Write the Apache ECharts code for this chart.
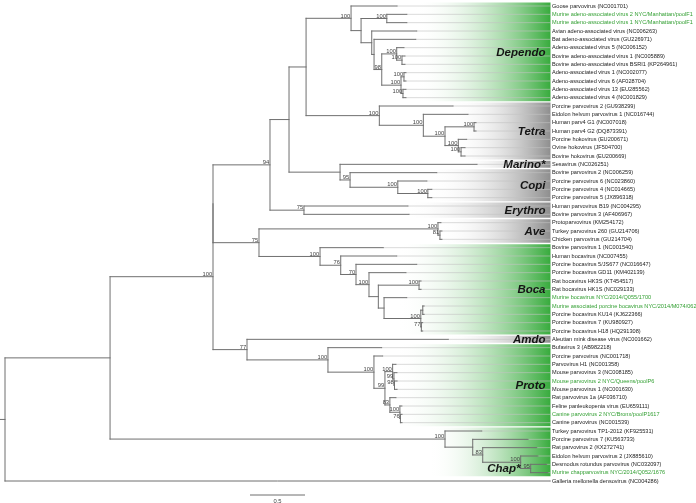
<!DOCTYPE html>
<html><head><meta charset="utf-8">
<script src="https://cdn.jsdelivr.net/npm/echarts@6/dist/echarts.min.js"></script>
<style>html,body{margin:0;padding:0;background:#fff}#c{width:696px;height:503px}</style>
</head><body><div id="c"></div>
<script>
// ---------------- DATA ----------------
const tipNames = [
 'Goose parvovirus (NC001701)',
 'Murine adeno-associated virus 2 NYC/Manhattan/poolF1',
 'Murine adeno-associated virus 1 NYC/Manhattan/poolF1',
 'Avian adeno-associated virus (NC006263)',
 'Bat adeno-associated virus (GU226971)',
 'Adeno-associated virus 5 (NC006152)',
 'Bovine adeno-associated virus 1 (NC005889)',
 'Bovine adeno-associated virus BSRI1 (KP264961)',
 'Adeno-associated virus 1 (NC002077)',
 'Adeno-associated virus 6 (AF028704)',
 'Adeno-associated virus 13 (EU285562)',
 'Adeno-associated virus 4 (NC001829)',
 'Porcine parvovirus 2 (GU938299)',
 'Eidolon helvum parvovirus 1 (NC016744)',
 'Human parv4 G1 (NC007018)',
 'Human parv4 G2 (DQ873391)',
 'Porcine hokovirus (EU200671)',
 'Ovine hokovirus (JF504700)',
 'Bovine hokovirus (EU200669)',
 'Sesavirus (NC026251)',
 'Bovine parvovirus 2 (NC006259)',
 'Porcine parvovirus 6 (NC023860)',
 'Porcine parvovirus 4 (NC014665)',
 'Porcine parvovirus 5 (JX896318)',
 'Human parvovirus B19 (NC004295)',
 'Bovine parvovirus 3 (AF406967)',
 'Protoparvovirus (KM254172)',
 'Turkey parvovirus 260 (GU214706)',
 'Chicken parvovirus (GU214704)',
 'Bovine parvovirus 1 (NC001540)',
 'Human bocavirus (NC007455)',
 'Porcine bocavirus 5/JS677 (NC016647)',
 'Porcine bocavirus GD11 (KM402139)',
 'Rat bocavirus HK3S (KT454517)',
 'Rat bocavirus HK1S (NC029133)',
 'Murine bocavirus NYC/2014/Q055/1700',
 'Murine associated porcine bocavirus NYC/2014/M074/0626',
 'Porcine bocavirus KU14 (KJ622366)',
 'Porcine bocavirus 7 (KU980927)',
 'Porcine bocavirus H18 (HQ291308)',
 'Aleutian mink disease virus (NC001662)',
 'Bufavirus 3 (AB982218)',
 'Porcine parvovirus (NC001718)',
 'Parvovirus H1 (NC001358)',
 'Mouse parvovirus 3 (NC008185)',
 'Mouse parvovirus 2 NYC/Queens/poolP6',
 'Mouse parvovirus 1 (NC001630)',
 'Rat parvovirus 1a (AF036710)',
 'Feline panleukopenia virus (EU659111)',
 'Canine parvovirus 2 NYC/Bronx/poolP1617',
 'Canine parvovirus (NC001539)',
 'Turkey parvovirus TP1-2012 (KF925531)',
 'Porcine parvovirus 7 (KU563733)',
 'Rat parvovirus 2 (KX272741)',
 'Eidolon helvum parvovirus 2 (JX885610)',
 'Desmodus rotundus parvovirus (NC032097)',
 'Murine chapparvovirus NYC/2014/Q052/1676',
 'Galleria mellonella densovirus (NC004286)'
];
const newTips = [1, 2, 35, 36, 45, 49, 56];

// clade subtrees (Newick; tips = index in tipNames, branch lengths in substitutions/site, node labels = bootstrap)
const dependoTree = "(0:0.418,((1:0.182,2:0.182)100:0.234,(3:0.409,(4:0.379,((5:0.066,(6:0.027,7:0.027)100:0.048)100:0.136,((8:0.018,9:0.018)100:0.027,(10:0.027,11:0.027)100:0.018)100:0.175)98:0.07):0.021):0.097):0.091)100:0.409";
const tetraTree = "(12:0.67,(13:0.406,((14:0.018,15:0.018)100:0.264,(16:0.076,(17:0.036,18:0.036)100:0.025)100:0.121)100:0.197)100:0.4)100:0.666";
const marinoCopiTree = "(19:1.245,(20:0.788,(21:0.264,(22:0.036,23:0.036)100:0.273)100:0.434)95:0.091):0.464";
const erythroTree = "(24:0.945,25:0.955)75:0.309";
const aveTree = "(26:0.027,(27:0.018,28:0.018)81:0.018)100:1.627";
const bocaTree = "(29:0.575,(30:0.509,(31:0.552,(32:0.336,((33:0.018,34:0.018)100:0.37,(35:0.206,((36:0.012,37:0.012):0.018,(38:0.012,39:0.012)77:0.005)100:0.334):0.052):0.085)100:0.118)70:0.139)76:0.188)100:0.555";
const protoTree = "(41:0.488,(42:0.079,((43:0.03,(44:0.027,(45:0.023,46:0.023)98:0.005)99:0.012)100:0.07,(47:0.055,(48:0.018,(49:0.014,50:0.014)76:0.005)100:0.091)83:0.045)99:0.1)100:0.418)100:0.736";
const amdoTree = "(40:1.83," + protoTree + ")77:0.309";
const chapTree = "(51:0.334,(52:0.503,(53:0.491,(54:0.157,(55:0.145,56:0.157)95:0.091)100:0.345)83:0.091):0.252)100:3.045";
const treeNewick =
 "(((((((" + dependoTree + "," + tetraTree + "):0.155," + marinoCopiTree + "):0.173," + erythroTree + ")94:0.518," +
 "(" + aveTree + "," + bocaTree + ")75:0.418):0," + amdoTree + ")100:0.936," + chapTree + "):0.955,57:4.955):0.045;";

const cladeNames = ['Dependo', 'Tetra', 'Marino*', 'Copi', 'Erythro', 'Ave', 'Boca', 'Amdo', 'Proto', 'Chap*'];
const cladeFirstTip = [0, 12, 19, 20, 24, 26, 29, 40, 41, 51];
const cladeLastTip  = [11, 18, 19, 23, 25, 28, 39, 40, 50, 56];
const cladeIsNew    = [true, false, false, false, false, false, true, false, true, true];

const scaleBarLength = 0.5;
const scaleBarLabel = '0.5';

// ---------------- STYLE / LAYOUT ----------------
const PX_PER_UNIT = 110;
const GRID = {left: 5, right: 144, top: 6, bottom: 22};
const X_MAX = (696 - GRID.left - GRID.right) / PX_PER_UNIT;
const BAND_FADE_FROM_PX = [415, 452, 462, 430, 405, 440, 398, 445, 395, 428];
const BAND_RIGHT_PX = 550.5;
const LABEL_X_PX = 552;
const GREEN = '#38ab3d', GRAY = '#8e8e8e';
const pxToUnit = px => (px - GRID.left) / PX_PER_UNIT;
const FONT = '"Liberation Sans", Arial, sans-serif';

// ---------------- TREE PARSING / LAYOUT ----------------
function parseNewick(str) {
  const s = str.replace(/\s+/g, '');
  let i = 0;
  function node() {
    const n = {children: []};
    if (s[i] === '(') {
      i++;
      for (;;) {
        n.children.push(node());
        if (s[i] === ',') { i++; continue; }
        if (s[i] === ')') { i++; break; }
        throw new Error('bad newick at ' + i);
      }
    }
    let name = '';
    while (i < s.length && !':,);'.includes(s[i])) name += s[i++];
    n.len = 0;
    if (s[i] === ':') {
      i++;
      let num = '';
      while (i < s.length && !',);'.includes(s[i])) num += s[i++];
      n.len = parseFloat(num);
    }
    if (n.children.length) n.support = name; else n.tip = parseInt(name, 10);
    return n;
  }
  return node();
}
const root = parseNewick(treeNewick);
function layout(n, parentX) {
  n.px = parentX;
  n.x = parentX + n.len;
  if (n.children.length) {
    n.children.forEach(c => layout(c, n.x));
    n.y = (n.children[0].y + n.children[n.children.length - 1].y) / 2;
  } else n.y = n.tip;
}
layout(root, -root.len);

const branchSegs = [], tipPoints = [], nodeLabelData = [];
(function collect(n) {
  branchSegs.push([n.px, n.y, n.x, n.y]);
  if (n.children.length) {
    const ys = n.children.map(c => c.y);
    branchSegs.push([n.x, Math.min(...ys), n.x, Math.max(...ys)]);
    if (n.support) nodeLabelData.push([n.x, n.y, +n.support]);
    n.children.forEach(collect);
  } else tipPoints.push([n.x, n.y, n.tip]);
})(root);

const labelX = pxToUnit(LABEL_X_PX);
const tipExtSegs = tipPoints.map(t => [t[0], t[1], pxToUnit(BAND_RIGHT_PX), t[1]]);
const tipLabelData = tipPoints.map(t => [labelX, t[1], t[2]]);
const bandData = cladeNames.map((nm, k) => [pxToUnit(BAND_FADE_FROM_PX[k]), cladeFirstTip[k] - 0.5, pxToUnit(BAND_RIGHT_PX), cladeLastTip[k] + 0.5, k]);

// ---------------- RENDERERS ----------------
function lineRenderer(stroke, width) {
  return (params, api) => {
    const a = api.coord([api.value(0), api.value(1)]);
    const b = api.coord([api.value(2), api.value(3)]);
    return {type: 'line', shape: {x1: a[0], y1: a[1], x2: b[0], y2: b[1]},
            style: {stroke: stroke, lineWidth: width, lineCap: 'square'}};
  };
}

const chart = echarts.init(document.getElementById('c'), null, {renderer: 'canvas', width: 696, height: 503});
chart.setOption({
  animation: false,
  backgroundColor: '#ffffff',
  grid: {left: GRID.left, right: GRID.right, top: GRID.top, bottom: GRID.bottom},
  xAxis: {type: 'value', min: 0, max: X_MAX, show: false},
  yAxis: {type: 'value', min: 0, max: tipNames.length - 1, inverse: true, show: false},
  series: [
    { // clade bands
      type: 'custom', silent: true, z: 1, data: bandData,
      renderItem: (params, api) => {
        const k = api.value(4);
        const a = api.coord([api.value(0), api.value(1)]);
        const b = api.coord([api.value(2), api.value(3)]);
        const col = cladeIsNew[k] ? GREEN : GRAY;
        return {type: 'rect', shape: {x: a[0], y: a[1] + 0.7, width: b[0] - a[0], height: b[1] - a[1] - 1.4},
          style: {fill: new echarts.graphic.LinearGradient(0, 0, 1, 0, [
            {offset: 0, color: 'rgba(255,255,255,0)'}, {offset: 1, color: col}])}};
      }
    },
    { // tip alignment lines
      type: 'custom', silent: true, z: 2, data: tipExtSegs,
      renderItem: lineRenderer('rgba(195,195,195,0.6)', 1)
    },
    { // branches
      type: 'custom', silent: true, z: 3, data: branchSegs,
      renderItem: lineRenderer('#6f6f6f', 1)
    },
    { // bootstrap values
      type: 'custom', silent: true, z: 4, data: nodeLabelData,
      renderItem: (params, api) => {
        const p = api.coord([api.value(0), api.value(1)]);
        return {type: 'text', x: p[0] - 0.8, y: p[1] + 0.6,
          style: {text: String(api.value(2)), fill: '#444', font: '5.8px ' + FONT, align: 'right', verticalAlign: 'bottom'}};
      }
    },
    { // tip labels
      type: 'custom', silent: true, z: 5, data: tipLabelData,
      renderItem: (params, api) => {
        const p = api.coord([api.value(0), api.value(1)]);
        const idx = api.value(2);
        return {type: 'text', x: p[0], y: p[1],
          style: {text: tipNames[idx], fill: newTips.includes(idx) ? '#34a034' : '#222',
                  font: '5.6px ' + FONT, align: 'left', verticalAlign: 'middle'}};
      }
    },
    { // clade names
      type: 'custom', silent: true, z: 6, data: bandData,
      renderItem: (params, api) => {
        const k = api.value(4);
        const a = api.coord([api.value(2), api.value(1)]);
        const b = api.coord([api.value(2), api.value(3)]);
        let x = a[0] - 5, y = (a[1] + b[1]) / 2 + 0.5;
        if (cladeNames[k] === 'Chap*') { x = a[0] - 30; y = b[1] - 8; }
        return {type: 'text', x: x, y: y,
          style: {text: cladeNames[k], fill: '#151515', font: 'italic bold 11.5px ' + FONT, align: 'right', verticalAlign: 'middle'}};
      }
    },
    { // scale bar
      type: 'custom', silent: true, z: 6, data: [[pxToUnit(250), tipNames.length - 1 + 14 / 8.333, scaleBarLength]],
      renderItem: (params, api) => {
        const a = api.coord([api.value(0), api.value(1)]);
        const b = api.coord([api.value(0) + api.value(2), api.value(1)]);
        return {type: 'group', children: [
          {type: 'line', shape: {x1: a[0], y1: a[1], x2: b[0], y2: b[1]}, style: {stroke: '#6f6f6f', lineWidth: 1}},
          {type: 'text', x: (a[0] + b[0]) / 2, y: a[1] + 3, style: {text: scaleBarLabel, fill: '#444', font: '5.8px ' + FONT, align: 'center', verticalAlign: 'top'}}
        ]};
      }
    }
  ]
});
</script>
</body></html>
